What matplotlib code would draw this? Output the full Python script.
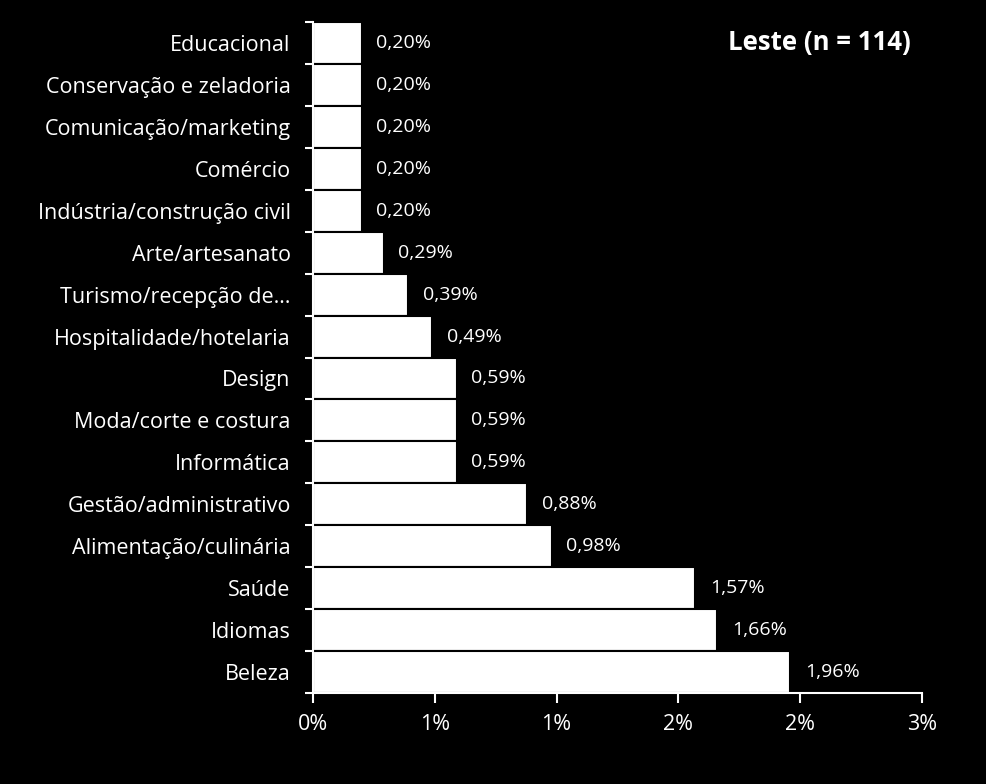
import matplotlib
matplotlib.use('Agg')
import matplotlib.pyplot as plt
import numpy as np

# categories top to bottom
categorias = ['Educacional', 'Conservação e zeladoria', 'Comunicação/marketing',
              'Comércio', 'Indústria/construção civil', 'Arte/artesanato',
              'Turismo/recepção de…', 'Hospitalidade/hotelaria', 'Design',
              'Moda/corte e costura', 'Informática', 'Gestão/administrativo',
              'Alimentação/culinária', 'Saúde', 'Idiomas', 'Beleza']
valores = [0.20, 0.20, 0.20, 0.20, 0.20, 0.29, 0.39, 0.49, 0.59, 0.59,
           0.59, 0.88, 0.98, 1.57, 1.66, 1.96]
xticks = [0, 0.5, 1.0, 1.5, 2.0, 2.5]
xticklabels = ['0%', '1%', '1%', '2%', '2%', '3%']
titulo = 'Leste (n = 114)'

plt.rcParams['font.family'] = ['Open Sans', 'DejaVu Sans']

fig = plt.figure(figsize=(9.86, 7.84), dpi=100, facecolor='black')
ax = fig.add_axes([0.3174, 0.116, 0.6176, 0.856], facecolor='black')

n = len(categorias)
y = np.arange(n)[::-1]
ax.barh(y, valores, height=1.0, color='white', edgecolor='black', linewidth=1.5)

for yi, v in zip(y, valores):
    ax.text(v + 0.06, yi, ('%.2f%%' % v).replace('.', ','), color='white',
            fontsize=14, va='center', ha='left')

ax.set_xlim(0, 2.5)
ax.set_ylim(-0.5, n - 0.5)
ax.set_xticks(xticks)
ax.set_xticklabels(xticklabels)
ax.set_yticks(y)
ax.set_yticklabels(categorias)
ax.set_yticks(np.arange(n + 1) - 0.5, minor=True)
ax.tick_params(axis='y', which='major', length=0, pad=16, labelsize=15.5, colors='white')
ax.tick_params(axis='y', which='minor', length=6, width=1.5, color='white')
ax.tick_params(axis='x', length=7, width=1.5, colors='white', labelsize=15.5, pad=8)

for s in ['top', 'right']:
    ax.spines[s].set_visible(False)
for s in ['left', 'bottom']:
    ax.spines[s].set_color('white')
    ax.spines[s].set_linewidth(1.5)

fig.text(0.831, 0.946, titulo, color='white', fontsize=18.5, fontweight='bold',
         ha='center', va='center')

plt.savefig('out.png', dpi=100, facecolor='black')
plt.close()
